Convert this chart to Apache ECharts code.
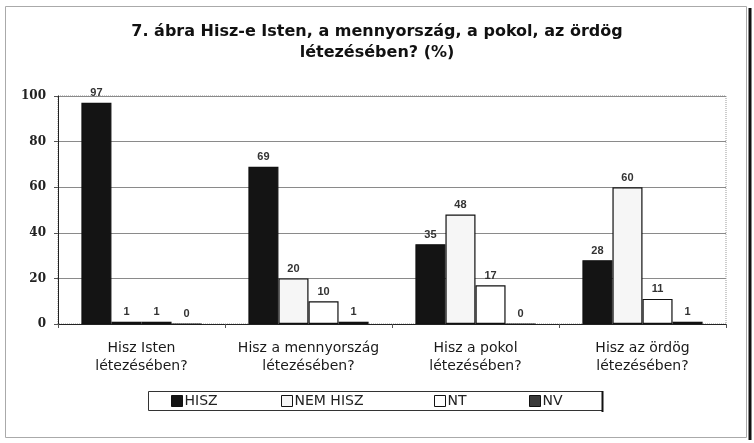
<!DOCTYPE html>
<html>
<head>
<meta charset="utf-8">
<script src="https://cdn.jsdelivr.net/npm/echarts@6/dist/echarts.min.js"></script>
<style>
  html, body { margin: 0; padding: 0; background: #fff; }
  #chart { width: 754px; height: 443px; }
</style>
</head>
<body>
<div id="chart"></div>
<script>
// 7. ábra - Hisz-e Isten, a mennyország, a pokol, az ördög létezésében? (%)
const categories = [
  'Hisz Isten\nlétezésében?',
  'Hisz a mennyország\nlétezésében?',
  'Hisz a pokol\nlétezésében?',
  'Hisz az ördög\nlétezésében?'
]
const seriesNames = ['HISZ', 'NEM HISZ', 'NT', 'NV']
const hisz = [97, 69, 35, 28]
const nemHisz = [1, 20, 48, 60]
const nt = [1, 10, 17, 11]
const nv = [0, 1, 0, 1]
const yTicks = [0, 20, 40, 60, 80, 100]

const sans = '"DejaVu Sans", sans-serif'
const fills = ['#141414', '#f6f6f6', '#ffffff', '#3a3a3a']
const values = [hisz, nemHisz, nt, nv]

const chart = echarts.init(document.getElementById('chart'), null, { renderer: 'canvas' })

const series = seriesNames.map((name, i) => ({
  name: name,
  type: 'bar',
  barGap: '0%',
  barCategoryGap: '28%',
  data: values[i],
  itemStyle: {
    color: fills[i],
    borderColor: '#111',
    borderWidth: 1.2
  },
  label: {
    show: true,
    position: 'top',
    distance: 4,
    fontSize: 11,
    fontWeight: 'bold',
    fontFamily: 'Arial, "Liberation Sans", sans-serif',
    color: '#333'
  }
}))

// legend items sit at uneven spots inside one box
const legendLeft = [171, 281, 434, 529]
const legends = seriesNames.map((name, i) => ({
  data: [name],
  left: legendLeft[i],
  top: 394,
  itemWidth: 11,
  itemHeight: 11,
  itemGap: 0,
  padding: 0,
  icon: 'rect',
  itemStyle: { borderColor: '#111', borderWidth: 1 },
  textStyle: {
    fontFamily: sans,
    fontSize: 14,
    color: '#222',
    padding: [0, 0, 0, -3]
  }
}))

const option = {
  animation: false,
  backgroundColor: '#fff',
  title: {
    text: '7. ábra Hisz-e Isten, a mennyország, a pokol, az ördög\nlétezésében? (%)',
    left: 'center',
    top: 16,
    textStyle: {
      fontFamily: sans,
      fontWeight: 'bold',
      fontSize: 16,
      lineHeight: 21,
      color: '#111'
    }
  },
  legend: legends,
  grid: {
    left: 58,
    right: 28,
    top: 96,
    bottom: 119,
    show: true,
    borderColor: '#999',
    borderType: 'dotted',
    borderWidth: 1
  },
  xAxis: {
    type: 'category',
    data: categories,
    axisLine: { lineStyle: { color: '#222', width: 1 } },
    axisTick: { show: true, length: 4, lineStyle: { color: '#555' } },
    axisLabel: {
      margin: 15,
      fontFamily: sans,
      fontSize: 14,
      lineHeight: 18,
      color: '#1a1a1a',
      interval: 0
    }
  },
  yAxis: {
    type: 'value',
    min: yTicks[0],
    max: yTicks[yTicks.length - 1],
    interval: 20,
    axisLine: { show: true, lineStyle: { color: '#222', width: 1 } },
    axisTick: { show: true, length: 4, lineStyle: { color: '#555' } },
    splitLine: { lineStyle: { color: '#8a8a8a', width: 1 } },
    axisLabel: {
      margin: 12,
      fontFamily: '"DejaVu Serif", serif',
      fontWeight: 'bold',
      fontSize: 12,
      color: '#222'
    }
  },
  graphic: [
    {
      type: 'rect',
      shape: { x: 5.5, y: 6.5, width: 741, height: 431 },
      style: { fill: 'none', stroke: '#aaa', lineWidth: 1 },
      silent: true
    },
    {
      type: 'line',
      shape: { x1: 750, y1: 8, x2: 750, y2: 440 },
      style: { stroke: '#111', lineWidth: 3 },
      silent: true
    },
    {
      type: 'rect',
      shape: { x: 148.5, y: 391.5, width: 454, height: 19 },
      style: { fill: 'none', stroke: '#333', lineWidth: 1 },
      silent: true,
      z: -1
    },
    {
      type: 'line',
      shape: { x1: 602.5, y1: 391, x2: 602.5, y2: 412 },
      style: { stroke: '#111', lineWidth: 2 },
      silent: true
    }
  ],
  series: series
}

chart.setOption(option)
</script>
</body>
</html>
